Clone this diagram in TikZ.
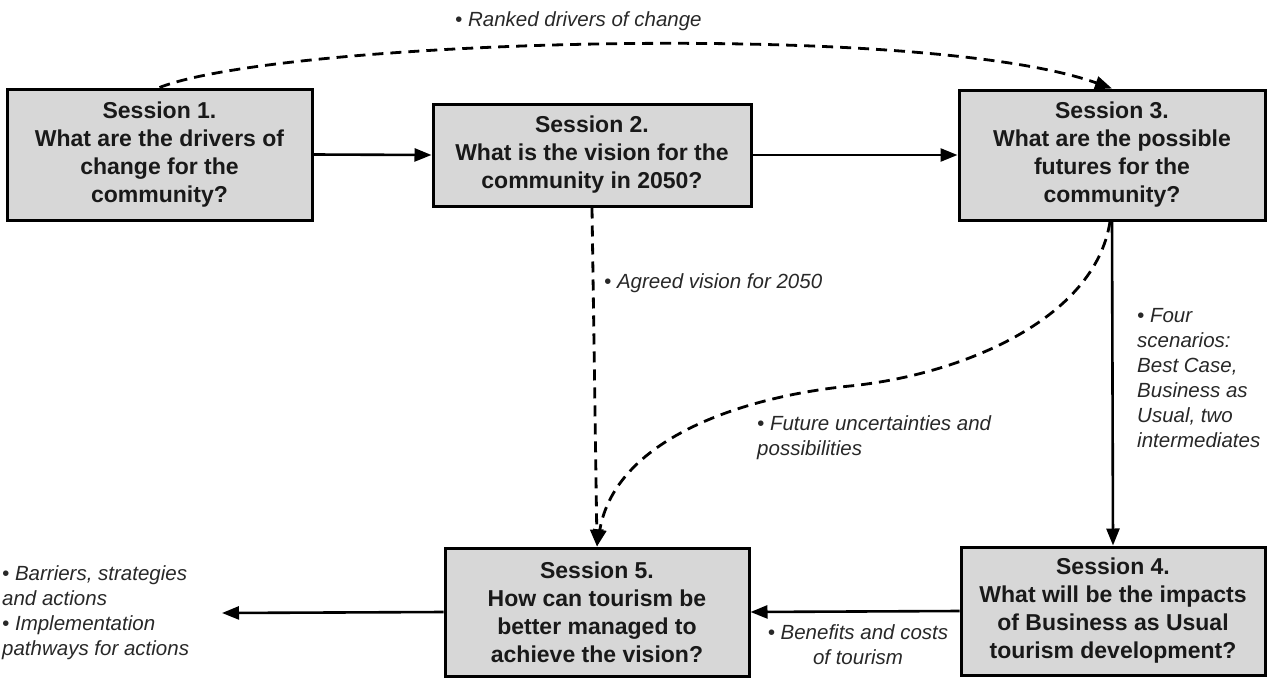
\documentclass[tikz,border=0pt]{standalone}
\usepackage{fontspec}
\setmainfont{Liberation Sans}
\usetikzlibrary{arrows.meta}
\definecolor{boxgray}{RGB}{215,215,215}
\definecolor{lblgray}{RGB}{40,40,40}
\begin{document}
\begin{tikzpicture}[x=1pt,y=-1pt,
  session/.style={draw=black, line width=3pt, fill=boxgray, align=center, inner sep=0pt,
    font=\bfseries\fontsize{23}{28}\selectfont, text=black!90},
  lbl/.style={font=\itshape\fontsize{20.5}{25}\selectfont, text=lblgray, inner sep=0pt, align=left},
  arr/.style={line width=2.6pt, -{Triangle[length=17pt,width=13pt]}},
  dsh/.style={arr, line width=2.8pt, dash pattern=on 11pt off 7pt}]
\useasboundingbox (0,0) rectangle (1271,677);

\node[session, minimum width=305pt, minimum height=131pt] (s1) at (159.5,154.5)
  {Session 1.\\What are the drivers of\\change for the\\community?};
\node[session, minimum width=318pt, minimum height=102pt] (s2) at (592,155)
  {Session 2.\\What is the vision for the\\community in 2050?};
\node[session, minimum width=306pt, minimum height=130pt] (s3) at (1112,155)
  {Session 3.\\What are the possible\\futures for the\\community?};
\node[session, minimum width=304pt, minimum height=128pt] (s4) at (1113,611)
  {Session 4.\\What will be the impacts\\of Business as Usual\\tourism development?};
\node[session, minimum width=304pt, minimum height=128pt] (s5) at (597,612)
  {Session 5.\\How can tourism be\\better managed to\\achieve the vision?};

% labels
\node[lbl, anchor=west] (l1) at (455,21) {• Ranked drivers of change};
\node[lbl, anchor=west] (l2) at (604,283) {• Agreed vision for 2050};
\node[lbl, anchor=west] (l3) at (757,438) {• Future uncertainties and\\possibilities};
\node[lbl, anchor=west] (l4) at (1137,378) {• Four\\scenarios:\\Best Case,\\Business as\\Usual, two\\intermediates};
\node[lbl, align=center] (l5) at (858,645) {• Benefits and costs\\of tourism};
\node[lbl, anchor=west] (l6) at (2,613) {• Barriers, strategies\\and actions\\• Implementation\\pathways for actions};

% connectors
\draw[arr] (s1.east) -- (s2.west);
\draw[arr] (s2.east) -- (s3.west);
\draw[arr] (s3.south) -- (s4.north);
\draw[arr] (s4.west) -- (s5.east);
\coordinate (out) at (222,613);
\draw[arr] (s5.west) -- (out);

\draw[dsh] (s1.north) .. controls (280,40) and (920,20) .. (s3.north);
\draw[dsh] (s2.south) -- (s5.north);
\draw[dsh] ([xshift=-2pt]s3.south) .. controls (1095,320) and (960,375) .. (850,386)
  .. controls (740,397) and (615,440) .. (s5.north);
\end{tikzpicture}
\end{document}
